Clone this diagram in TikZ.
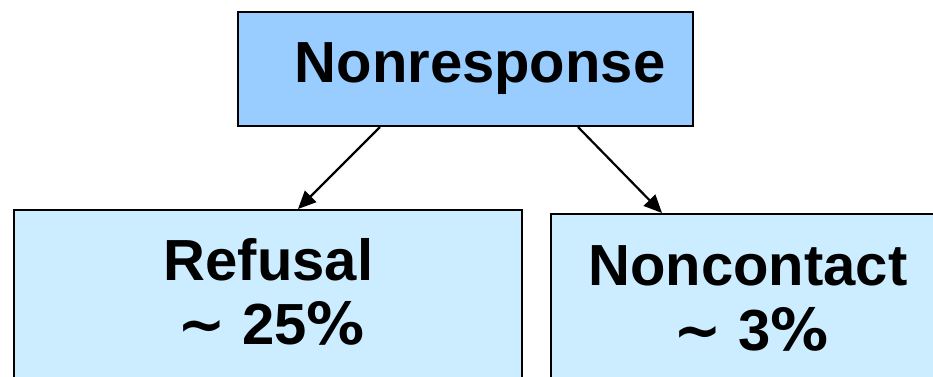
\documentclass[tikz,border=0pt]{standalone}
\usepackage{fontspec}
\setmainfont{Liberation Sans}
\newfontfamily\symfont{DejaVu Sans}
\usetikzlibrary{arrows.meta}
\definecolor{topblue}{HTML}{99CCFF}
\definecolor{lowblue}{HTML}{CCECFF}
\newcommand{\pct}{{\symfont\bfseries\%}}
\newcommand{\approxsign}{{\symfont\bfseries\textasciitilde}}
\tikzset{
  box/.style={draw=black,line width=2pt,inner sep=0pt},
  topbox/.style={box,fill=topblue,minimum width=455pt,minimum height=114pt},
  lowbox/.style={box,fill=lowblue,minimum height=240pt},
  big/.style={font=\fontsize{58}{64}\selectfont\bfseries,anchor=base,inner sep=0pt},
  arr/.style={line width=2.2pt,-{Triangle[length=18pt,width=16pt]}}
}
\begin{document}
\begin{tikzpicture}[x=1pt,y=-1pt]
  % pixel grid of the 933 x 376 frame, y running down
  \useasboundingbox (0,0) rectangle (933,376);
  \clip (0,0) rectangle (933,376);
  \node[topbox] (nonresp) at (465.5,69) {};
  \node[lowbox,minimum width=508pt] (refusal) at (268,330) {};
  \node[lowbox,minimum width=396pt] (noncontact) at (749,334) {};
  % labels
  \node[big] (nonresptxt) at (480,82) {Nonresponse};
  \node[big] (refusaltxt) at (268.5,280) {Refusal};
  \node[big] (refusalpct) at (271,344) {\approxsign\ 25\pct};
  \node[big] (noncontacttxt) at (748,285) {Noncontact};
  \node[big] (noncontactpct) at (751,350) {\approxsign\ 3\pct};
  % arrows
  \draw[arr] ([xshift=-85.5pt]nonresp.south) -- ([xshift=30pt]refusal.north);
  \draw[arr] ([xshift=112.5pt]nonresp.south) -- ([xshift=-87pt]noncontact.north);
\end{tikzpicture}
\end{document}
